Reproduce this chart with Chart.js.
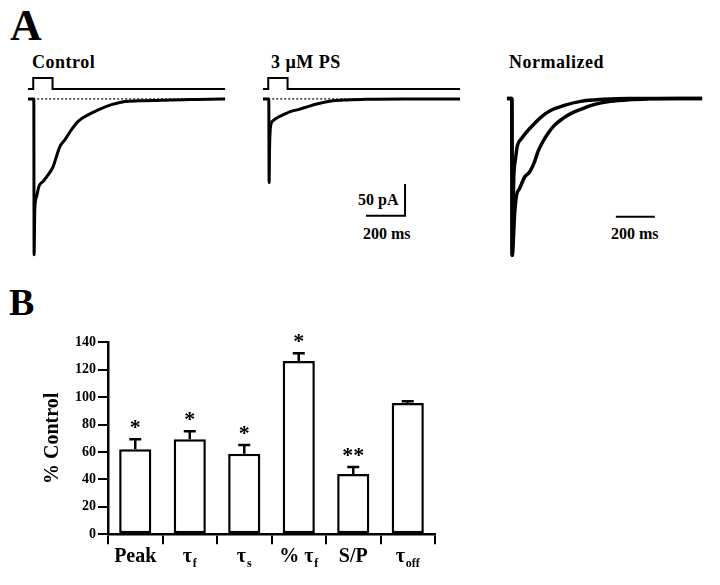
<!DOCTYPE html>
<html>
<head>
<meta charset="utf-8">
<script src="https://cdn.jsdelivr.net/npm/chart.js@4"></script>
<style>
body { margin: 0; background: #fff; }
#fig { position: relative; width: 720px; height: 585px; overflow: hidden; font-family: "Liberation Serif", serif; font-weight: bold; color: #000; }
#fig canvas, #fig .lbl { position: absolute; }
.lbl { line-height: 1; white-space: nowrap; }
</style>
</head>
<body>
<div id="fig">
  <div class="lbl" style="left:10px;top:4px;font-size:44px">A</div>
  <div class="lbl" style="left:32px;top:53px;font-size:18px;letter-spacing:0.5px">Control</div>
  <div class="lbl" style="left:271px;top:53px;font-size:18px;letter-spacing:0.5px">3 µM PS</div>
  <div class="lbl" style="left:509px;top:53px;font-size:18px;letter-spacing:0.5px">Normalized</div>
  <div class="lbl" style="left:358px;top:192px;font-size:16px">50 pA</div>
  <div class="lbl" style="left:363px;top:226px;font-size:16px">200 ms</div>
  <div class="lbl" style="left:611px;top:226px;font-size:16px">200 ms</div>
  <div class="lbl" style="left:9px;top:283px;font-size:38px">B</div>
  <canvas id="ctl" width="203" height="198" style="left:26px;top:67px"></canvas>
  <canvas id="ps" width="203" height="198" style="left:261px;top:67px"></canvas>
  <canvas id="norm" width="203" height="204" style="left:504px;top:67px"></canvas>
  <canvas id="bars" width="450" height="265" style="left:0;top:320px"></canvas>
</div>
<script>
// panel A: currents, time in ms, current in pA
const controlTime = [-30, -4, 0, 1.5, 5, 14, 26, 48, 73, 99, 116, 133, 159, 193, 227, 278, 330, 398, 467, 540, 610, 700, 800, 900, 980];
const controlCurrent = [0, 0, 0, -244, -173, -153, -137, -129, -119, -106, -90, -75, -64, -48, -35, -25, -17, -9, -4, -3, -2.5, -1.5, -1, -0.5, 0];
const psTime = [-30, -4, 0, 1.5, 4, 9, 22, 45, 73, 110, 159, 200, 245, 328, 400, 501, 700, 980];
const psCurrent = [0, 0, 0, -131, -75, -43, -34, -29, -25, -20, -16, -12, -8, -3, -1.5, -0.5, 0, 0];

// agonist pulse (0 = off, 1 = on)
const pulseTime = [-30, -3, -3, 96, 96, 980];
const pulseLevel = [0, 0, 1, 1, 0, 0];
const baselineTime = [-3, 980];
const baselineLevel = [0, 0];

// scale bar 200 ms / 50 pA
const scaleBarTime = [498, 698, 698];
const scaleBarCurrent = [-183, -183, -133];

// normalized to peak
const normSlowTime = [-25, -3, 0, 2, 15, 24, 40, 66, 91, 116, 133, 158, 184, 218, 260, 302, 353, 420, 505, 600, 700, 850, 975];
const normSlow = [0, 0, 0, -1, -0.724, -0.618, -0.575, -0.501, -0.469, -0.406, -0.342, -0.278, -0.225, -0.172, -0.129, -0.097, -0.07, -0.04, -0.019, -0.008, -0.003, 0, 0];
const normFastTime = [-25, -3, 0, 2, 5, 10, 19, 29, 49, 83, 116, 150, 201, 268, 353, 471, 600, 800, 975];
const normFast = [0, 0, 0, -1, -0.75, -0.5, -0.384, -0.3, -0.257, -0.204, -0.161, -0.119, -0.076, -0.045, -0.019, -0.006, 0, 0, 0];
const normBarTime = [533, 733];
const normBarLevel = [-0.754, -0.754];

// panel B
const categories = ['Peak', 'τf', 'τs', '% τf', 'S/P', 'τoff'];
const labelMain = ['Peak', 'τ', 'τ', '% τ', 'S/P', 'τ'];
const labelSub = ['', 'f', 's', 'f', '', 'off'];
const barValues = [62, 69.3, 58.8, 126.4, 44, 95.8];
const barErrors = [7.3, 5.8, 6.3, 5.6, 5.1, 1.2];
const barStars = ['*', '*', '*', '*', '**', ''];

const serif = '"Liberation Serif", "Times New Roman", serif';

const points = (xs, ys) => xs.map((x, i) => ({x: x, y: ys[i]}));

function line(xs, ys, extra) {
    return Object.assign({
        data: points(xs, ys),
        borderColor: '#000',
        borderWidth: 3,
        pointRadius: 0,
        fill: false,
        tension: 0
    }, extra);
}

function traceChart(id, datasets, yMin, yMax) {
    return new Chart(document.getElementById(id), {
        type: 'line',
        data: { datasets: datasets },
        options: {
            responsive: false,
            animation: false,
            devicePixelRatio: 1,
            layout: { padding: 0 },
            plugins: { legend: { display: false }, tooltip: { enabled: false } },
            scales: {
                x: { type: 'linear', display: false, min: -40, max: 1000 },
                y: { display: false, min: yMin, max: yMax },
                pulse: { axis: 'y', type: 'linear', display: false, min: -16, max: 2 }
            }
        }
    });
}

traceChart('ctl', [
    line(controlTime, controlCurrent, { cubicInterpolationMode: 'monotone' }),
    line(pulseTime, pulseLevel, { yAxisID: 'pulse', borderWidth: 2 }),
    line(baselineTime, baselineLevel, { borderWidth: 1.2, borderDash: [2, 2] })
], -260, 50);

traceChart('ps', [
    line(psTime, psCurrent, { cubicInterpolationMode: 'monotone' }),
    line(scaleBarTime, scaleBarCurrent, { borderWidth: 2 }),
    line(pulseTime, pulseLevel, { yAxisID: 'pulse', borderWidth: 2 }),
    line(baselineTime, baselineLevel, { borderWidth: 1.2, borderDash: [2, 2] })
], -260, 50);

traceChart('norm', [
    line(normSlowTime, normSlow, { cubicInterpolationMode: 'monotone', borderWidth: 3.5 }),
    line(normFastTime, normFast, { cubicInterpolationMode: 'monotone', borderWidth: 3.5 }),
    line(normBarTime, normBarLevel, { borderWidth: 2 })
], -1.1, 0.2);

const errorBars = {
    id: 'errorBars',
    afterDatasetsDraw(chart) {
        const ctx = chart.ctx;
        const y = chart.scales.y;
        ctx.save();
        ctx.strokeStyle = '#000';
        ctx.fillStyle = '#000';
        ctx.lineWidth = 2.5;
        chart.getDatasetMeta(0).data.forEach((bar, i) => {
            const top = y.getPixelForValue(barValues[i] + barErrors[i]);
            ctx.beginPath();
            ctx.moveTo(bar.x, bar.y);
            ctx.lineTo(bar.x, top);
            ctx.moveTo(bar.x - 6, top);
            ctx.lineTo(bar.x + 6, top);
            ctx.stroke();
            if (barStars[i]) {
                ctx.font = 'bold 22px ' + serif;
                ctx.textAlign = 'center';
                ctx.textBaseline = 'alphabetic';
                ctx.fillText(barStars[i], bar.x, top - 5);
            }
        });
        ctx.restore();
    }
};

// tick labels with subscripts
const categoryLabels = {
    id: 'categoryLabels',
    afterDraw(chart) {
        const ctx = chart.ctx;
        const x = chart.scales.x;
        const baseY = chart.chartArea.bottom + 28;
        ctx.save();
        ctx.fillStyle = '#000';
        ctx.textAlign = 'left';
        ctx.textBaseline = 'alphabetic';
        categories.forEach((c, i) => {
            ctx.font = 'bold 20px ' + serif;
            const w1 = ctx.measureText(labelMain[i]).width;
            ctx.font = 'bold 12px ' + serif;
            const w2 = labelSub[i] ? ctx.measureText(labelSub[i]).width + 1 : 0;
            const left = x.getPixelForValue(i) - (w1 + w2) / 2;
            ctx.font = 'bold 20px ' + serif;
            ctx.fillText(labelMain[i], left, baseY);
            if (labelSub[i]) {
                ctx.font = 'bold 12px ' + serif;
                ctx.fillText(labelSub[i], left + w1 + 1, baseY + 5);
            }
        });
        ctx.restore();
    }
};

new Chart(document.getElementById('bars'), {
    type: 'bar',
    data: {
        labels: categories,
        datasets: [{
            data: barValues,
            backgroundColor: '#fff',
            borderColor: '#000',
            borderWidth: 2.5,
            borderSkipped: false,
            categoryPercentage: 1,
            barPercentage: 0.59
        }]
    },
    options: {
        responsive: false,
        animation: false,
        devicePixelRatio: 1,
        layout: { padding: { top: 22.3, right: 15, left: 0, bottom: 0 } },
        plugins: { legend: { display: false }, tooltip: { enabled: false } },
        scales: {
            x: {
                grid: { offset: true, drawOnChartArea: false, drawTicks: true, tickLength: 10, color: '#000', lineWidth: 2 },
                border: { color: '#000', width: 2.5 },
                ticks: { display: false },
                afterFit: (s) => { s.height = 50.7; }
            },
            y: {
                min: 0,
                max: 140,
                ticks: { stepSize: 20, color: '#000', padding: 2, font: { family: serif, weight: 'bold', size: 14 } },
                grid: { drawOnChartArea: false, tickLength: 10, color: '#000', lineWidth: 2 },
                border: { color: '#000', width: 2.5 },
                title: { display: true, text: '% Control', color: '#000', font: { family: serif, weight: 'bold', size: 20 }, padding: { top: 41, bottom: 0 } },
                afterFit: (s) => { s.width = 108; }
            }
        }
    },
    plugins: [errorBars, categoryLabels]
});
</script>
</body>
</html>
